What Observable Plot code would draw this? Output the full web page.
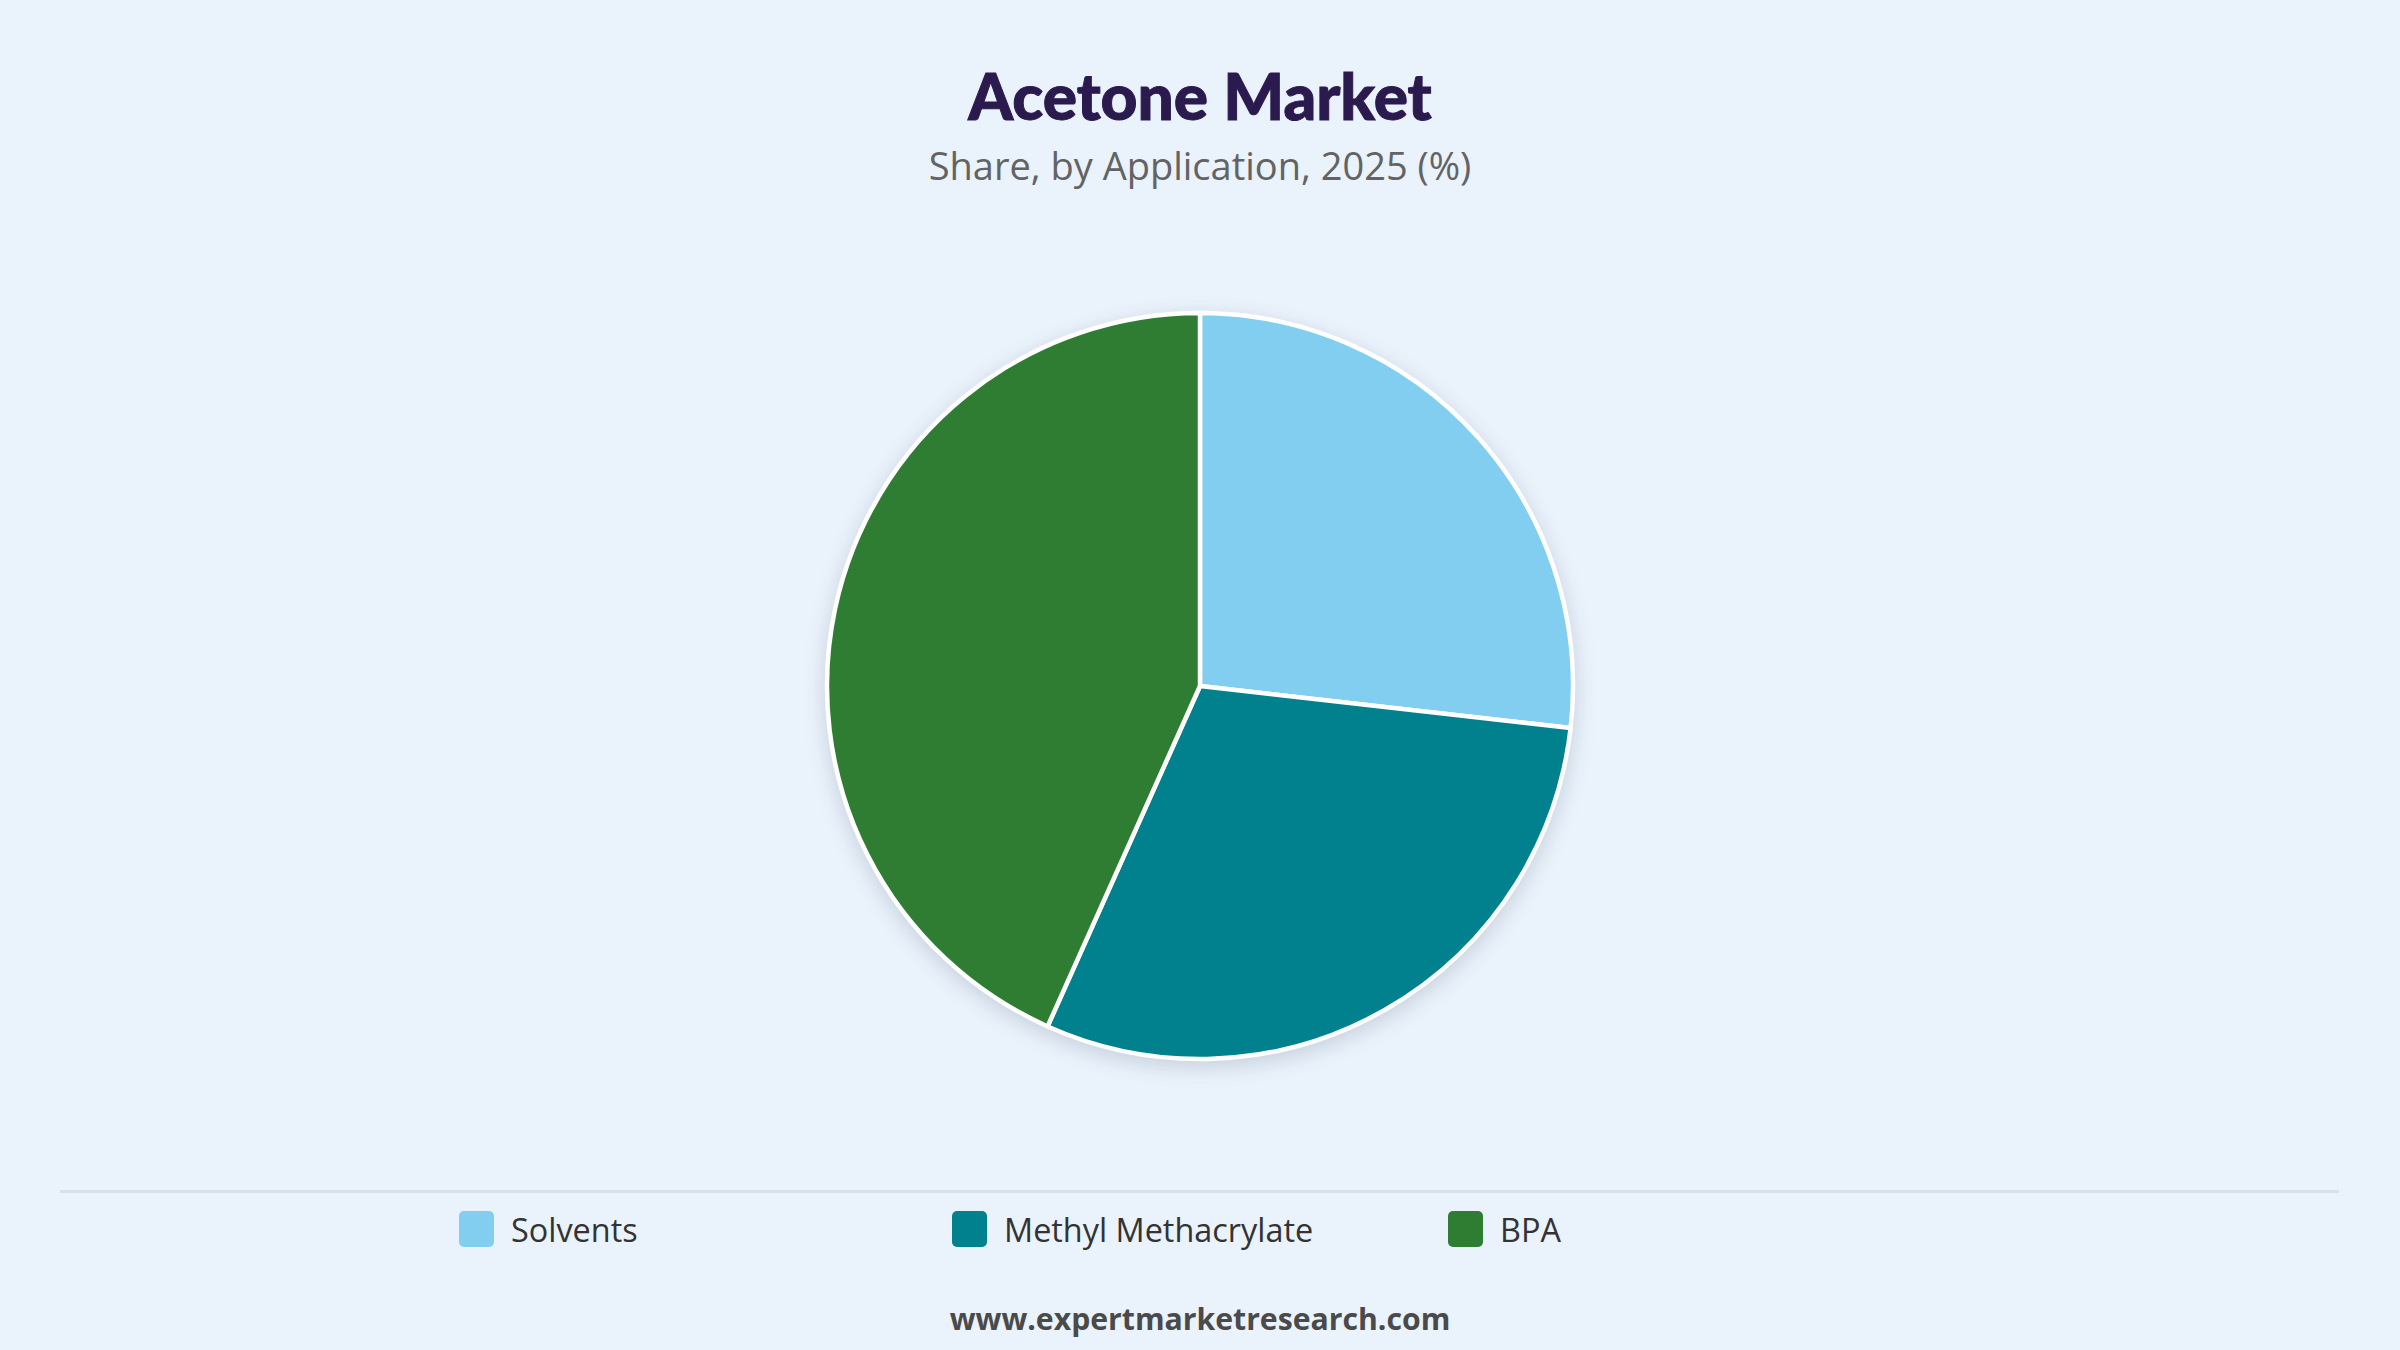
<!DOCTYPE html>
<html>
<head>
<meta charset="utf-8">
<script src="https://cdn.jsdelivr.net/npm/d3@7"></script>
<script src="https://cdn.jsdelivr.net/npm/@observablehq/plot@0.6"></script>
<style>
  html, body { margin: 0; padding: 0; }
  body { width: 2400px; height: 1350px; background: #EAF2FB; position: relative; overflow: hidden; font-family: "Open Sans", "Noto Sans", sans-serif; }
  #title { position: absolute; top: 64px; left: 0; width: 2400px; text-align: center; font-family: Lato, sans-serif; font-weight: 900; font-size: 64px; color: #2B1A4E; line-height: 1; -webkit-text-stroke: 1px #2B1A4E; }
  #subtitle { position: absolute; top: 146px; left: 0; width: 2400px; text-align: center; font-family: "Open Sans", sans-serif; font-weight: 500; font-size: 38px; color: #636363; line-height: 1; }
  #chart { position: absolute; top: 200px; left: 0; }
  #chart svg { overflow: visible; }
  #sep { position: absolute; top: 1190px; left: 60px; width: 2279px; height: 3px; background: #dcdfe3; }
  .item { position: absolute; top: 1211px; height: 36px; display: flex; align-items: center; font-family: "Open Sans", sans-serif; font-size: 32.4px; color: #333; white-space: nowrap; }
  .sw { width: 35px; height: 36px; border-radius: 5px; margin-right: 17px; }
  #footer { position: absolute; top: 1304px; left: 0; width: 2400px; text-align: center; font-family: "Open Sans", sans-serif; font-weight: 700; font-size: 30.2px; color: #4a4a4a; line-height: 1; }
</style>
</head>
<body>
<div id="title">Acetone Market</div>
<div id="subtitle">Share, by Application, 2025 (%)</div>
<div id="chart"></div>
<div id="sep"></div>
<div id="legend"></div>
<div id="footer">www.expertmarketresearch.com</div>
<script>
const categories = ["Solvents", "Methyl Methacrylate", "BPA"];
const shares = [26.8, 29.9, 43.3];
const colors = ["#81CEF0", "#00818D", "#2E7D32"];

const data = categories.map((c, i) => ({category: c, value: shares[i]}));

const W = 2400, H = 970, R = 373, CX = 1200, CY = 486;

const pieMark = (index, scales, values, dimensions) => {
  const cx = scales.x(0), cy = scales.y(0);
  const r = scales.x(1) - scales.x(0);
  const arcs = d3.pie().sort(null).value(d => d.value)(data);
  const arc = d3.arc().innerRadius(0).outerRadius(r);
  const g = d3.create("svg:g")
    .attr("transform", `translate(${cx},${cy})`)
    .style("filter", "drop-shadow(0px 6px 10px rgba(40,60,90,0.18))");
  g.selectAll("path").data(arcs).join("path")
    .attr("d", arc)
    .attr("fill", d => scales.color(d.data.category))
    .attr("stroke", "#ffffff")
    .attr("stroke-width", 4.5)
    .attr("stroke-linejoin", "round");
  return g.node();
};

const chart = Plot.plot({
  width: W,
  height: H,
  marginLeft: CX - R,
  marginRight: W - CX - R,
  marginTop: CY - R,
  marginBottom: H - CY - R,
  style: {background: "transparent", overflow: "visible"},
  x: {domain: [-1, 1], axis: null},
  y: {domain: [-1, 1], axis: null},
  color: {domain: categories, range: colors},
  marks: [pieMark]
});
document.getElementById("chart").appendChild(chart);

const legendX = [459, 952, 1448];
const legend = document.getElementById("legend");
categories.forEach((c, i) => {
  const item = document.createElement("div");
  item.className = "item";
  item.style.left = legendX[i] + "px";
  const sw = document.createElement("div");
  sw.className = "sw";
  sw.style.background = colors[i];
  const t = document.createElement("span");
  t.textContent = c;
  item.appendChild(sw);
  item.appendChild(t);
  legend.appendChild(item);
});
</script>
</body>
</html>
